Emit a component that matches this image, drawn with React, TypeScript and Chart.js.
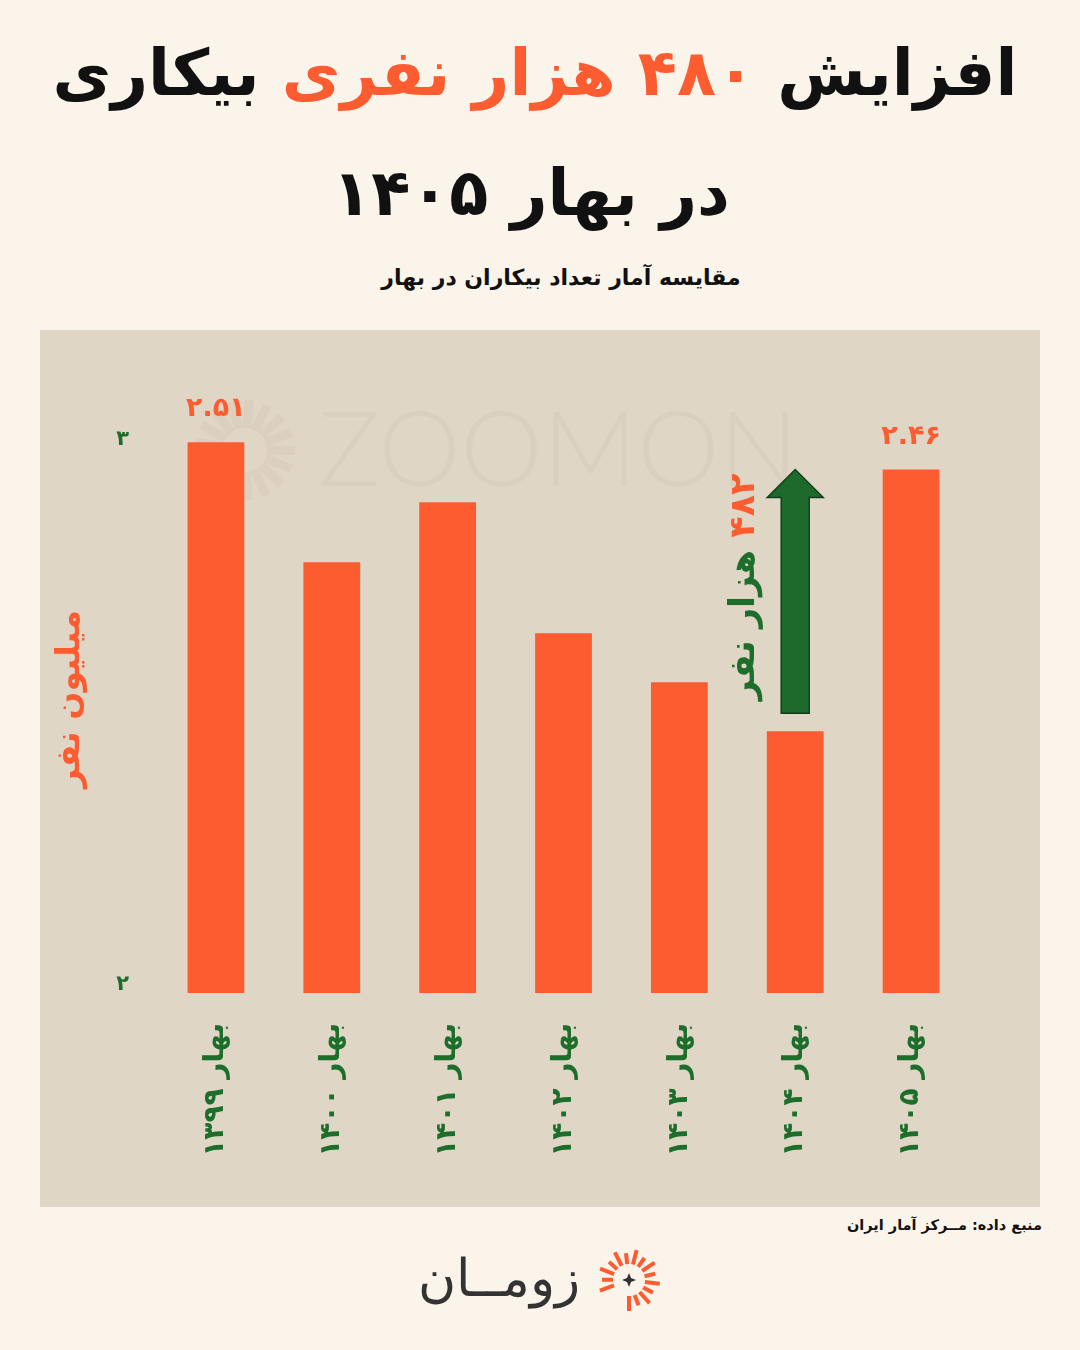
import React, { useEffect, useRef } from "react";
import { Chart, registerables } from "chart.js";

Chart.register(...registerables);

const categories = ["بهار ۱۳۹۹", "بهار ۱۴۰۰", "بهار ۱۴۰۱", "بهار ۱۴۰۲", "بهار ۱۴۰۳", "بهار ۱۴۰۴", "بهار ۱۴۰۵"];
const unemployedMillions = [2.51, 2.29, 2.4, 2.16, 2.07, 1.98, 2.46];
const labelledBars = [0, 6];
const yTickValues = [1.515, 2.515];
const arrowFromIndex = 5;
const arrowToIndex = 6;
const arrowAmount = "۴۸۲";
const arrowUnit = "هزار نفر";
const yAxisTitle = "میلیون نفر";

const ORANGE = "#FD5C31";
const GREEN = "#1D6E2B";
const FONT = "'DejaVu Sans'";

const toFa = (s: string) => s.replace(/\d/g, (d) => "۰۱۲۳۴۵۶۷۸۹"[Number(d)]);

const annotations = {
  id: "annotations",
  beforeDatasetsDraw(chart: any) {
    const ctx = chart.ctx;
    ctx.save();
    ctx.fillStyle = "rgba(110,90,70,0.05)";
    ctx.font = "300 104px Lato";
    ctx.textAlign = "center";
    ctx.textBaseline = "middle";
    ctx.fillText("ZOOMON", 518, 122);
    ctx.strokeStyle = "rgba(110,90,70,0.045)";
    ctx.lineWidth = 9;
    for (let k = 0; k < 14; k++) {
      const a = -Math.PI * 0.95 + k * (Math.PI * 1.55) / 13;
      ctx.beginPath();
      ctx.moveTo(205 + Math.cos(a) * 22, 120 + Math.sin(a) * 22);
      ctx.lineTo(205 + Math.cos(a) * 50, 120 + Math.sin(a) * 50);
      ctx.stroke();
    }
    ctx.restore();
  },
  afterDatasetsDraw(chart: any) {
    const ctx = chart.ctx;
    const meta = chart.getDatasetMeta(0);
    const yScale = chart.scales.y;
    ctx.save();
    // value labels
    ctx.fillStyle = ORANGE;
    ctx.font = `bold 27px ${FONT}`;
    ctx.textAlign = "center";
    ctx.textBaseline = "middle";
    labelledBars.forEach((i) => {
      const bar = meta.data[i];
      ctx.fillText(toFa(unemployedMillions[i].toFixed(2)), bar.x, bar.y - 33);
    });
    // arrow
    const from = meta.data[arrowFromIndex];
    const x = from.x;
    const yBottom = from.y - 18;
    const yTip = yScale.getPixelForValue(unemployedMillions[arrowToIndex]);
    const headH = 28;
    ctx.beginPath();
    ctx.moveTo(x - 14, yBottom);
    ctx.lineTo(x - 14, yTip + headH);
    ctx.lineTo(x - 28, yTip + headH);
    ctx.lineTo(x, yTip);
    ctx.lineTo(x + 28, yTip + headH);
    ctx.lineTo(x + 14, yTip + headH);
    ctx.lineTo(x + 14, yBottom);
    ctx.closePath();
    ctx.fillStyle = "#1E6A2C";
    ctx.fill();
    ctx.strokeStyle = "#123F1A";
    ctx.lineWidth = 1.5;
    ctx.stroke();
    // arrow label (rotated)
    ctx.translate(x - 50, yTip + 4);
    ctx.rotate(-Math.PI / 2);
    ctx.font = `bold 35px ${FONT}`;
    ctx.textAlign = "right";
    ctx.textBaseline = "middle";
    ctx.fillStyle = ORANGE;
    ctx.fillText(arrowAmount, 0, 0);
    const w = ctx.measureText(arrowAmount + " ").width;
    ctx.fillStyle = GREEN;
    ctx.fillText(arrowUnit, -w, 0);
    ctx.restore();
    // y axis title
    ctx.save();
    ctx.translate(30, 369);
    ctx.rotate(-Math.PI / 2);
    ctx.font = `bold 33px ${FONT}`;
    ctx.fillStyle = ORANGE;
    ctx.textAlign = "center";
    ctx.textBaseline = "middle";
    ctx.fillText(yAxisTitle, 0, 0);
    ctx.restore();
  },
};

function BarChart() {
  const ref = useRef<HTMLCanvasElement>(null);
  useEffect(() => {
    if (!ref.current) return;
    const chart = new Chart(ref.current, {
      type: "bar",
      data: {
        labels: categories,
        datasets: [
          {
            data: unemployedMillions,
            backgroundColor: ORANGE,
            barPercentage: 0.49,
            categoryPercentage: 1,
          },
        ],
      },
      options: {
        responsive: false,
        animation: false,
        layout: { padding: { top: 36, right: 71, left: 0, bottom: 0 } },
        plugins: { legend: { display: false }, tooltip: { enabled: false } },
        scales: {
          x: {
            grid: { display: false },
            border: { display: false },
            afterFit: (s: any) => {
              s.height = 214;
            },
            ticks: {
              minRotation: 90,
              maxRotation: 90,
              padding: 22,
              color: GREEN,
              font: { family: FONT, size: 28, weight: "bold" },
            },
          },
          y: {
            min: 1.5,
            max: 2.65,
            grid: { display: false },
            border: { display: false },
            afterFit: (s: any) => {
              s.width = 118;
            },
            afterBuildTicks: (s: any) => {
              s.ticks = yTickValues.map((v) => ({ value: v }));
            },
            ticks: {
              padding: 21,
              color: GREEN,
              font: { family: FONT, size: 21, weight: "bold" },
              callback: (v: any) => toFa(String(Math.round(Number(v)))),
            },
          },
        },
      },
      plugins: [annotations],
    });
    return () => chart.destroy();
  }, []);
  return <canvas ref={ref} width={1000} height={877} style={{ display: "block" }} />;
}

function Sun() {
  const rays = [];
  for (let k = 0; k < 15; k++) {
    const a = (-200 + k * (290 / 14)) * (Math.PI / 180);
    const long = k % 2 === 0 ? 31 : 27;
    rays.push(
      <line
        key={k}
        x1={35 + Math.cos(a) * 16}
        y1={35 + Math.sin(a) * 16}
        x2={35 + Math.cos(a) * long}
        y2={35 + Math.sin(a) * long}
        stroke={ORANGE}
        strokeWidth={4}
        strokeLinecap="butt"
      />
    );
  }
  return (
    <svg width={70} height={70} viewBox="0 0 70 70">
      {rays}
      <path d="M35 28 L37 33 L42 35 L37 37 L35 42 L33 37 L28 35 L33 33 Z" fill="#333" />
    </svg>
  );
}

export default function App() {
  return (
    <div
      style={{
        position: "absolute",
        left: 0,
        top: 0,
        width: 1080,
        height: 1350,
        background: "#FAF4EB",
        overflow: "hidden",
        fontFamily: FONT,
      }}
    >
      <div
        dir="rtl"
        style={{ position: "absolute", top: 28, left: 0, width: 1070, textAlign: "center", fontSize: 64, fontWeight: 900, lineHeight: "90px", color: "#111" }}
      >
        افزایش <span style={{ color: ORANGE }}>۴۸۰ هزار نفری</span> بیکاری
      </div>
      <div
        dir="rtl"
        style={{ position: "absolute", top: 148, left: 0, width: 1062, textAlign: "center", fontSize: 64, fontWeight: 900, lineHeight: "90px", color: "#111" }}
      >
        در بهار ۱۴۰۵
      </div>
      <div
        dir="rtl"
        style={{ position: "absolute", top: 260, left: 0, width: 1122, textAlign: "center", fontSize: 22, fontWeight: 700, lineHeight: "36px", color: "#111" }}
      >
        مقایسه آمار تعداد بیکاران در بهار
      </div>
      <div style={{ position: "absolute", left: 40, top: 330, width: 1000, height: 877, background: "#E0D6C5" }}>
        <BarChart />
      </div>
      <div
        dir="rtl"
        style={{ position: "absolute", top: 1212, right: 38, fontSize: 14.5, fontWeight: 700, color: "#111", lineHeight: "26px" }}
      >
        منبع داده: مــرکز آمار ایران
      </div>
      <div style={{ position: "absolute", top: 1245, left: 594 }}>
        <Sun />
      </div>
      <div
        dir="rtl"
        style={{ position: "absolute", top: 1238, left: 416, width: 165, textAlign: "center", fontSize: 52, fontWeight: 300, color: "#333", lineHeight: "80px" }}
      >
        زومــان
      </div>
    </div>
  );
}
